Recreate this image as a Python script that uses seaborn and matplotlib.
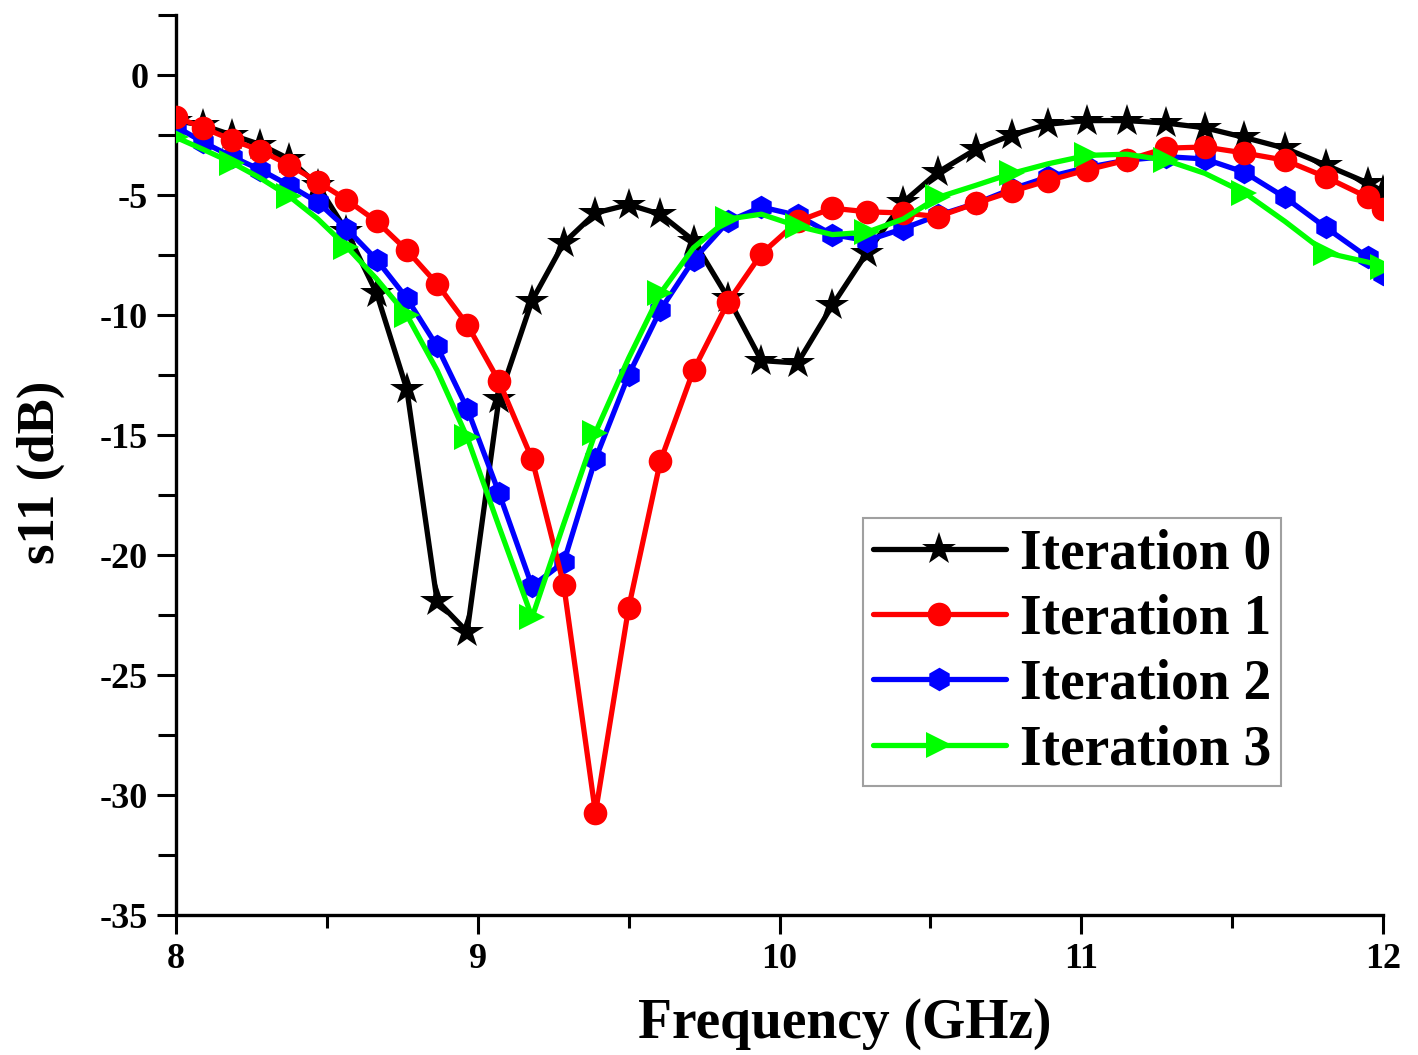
import matplotlib
matplotlib.use("Agg")
import matplotlib.pyplot as plt
import seaborn as sns
import pandas as pd
from matplotlib.ticker import MultipleLocator

# Frequency points (GHz)
freq = [8.00, 8.09, 8.185, 8.28, 8.375, 8.47, 8.565, 8.665, 8.765, 8.865,
        8.965, 9.07, 9.18, 9.285, 9.39, 9.50, 9.605, 9.715, 9.83, 9.94,
        10.06, 10.175, 10.29, 10.41, 10.525, 10.65, 10.77, 10.89, 11.02, 11.15,
        11.28, 11.41, 11.54, 11.675, 11.81, 11.95, 12.0]

iter0 = [-1.9, -2.1, -2.5, -2.9, -3.5, -4.6, -6.5, -9.1, -13.1, -21.9,
         -23.2, -13.5, -9.4, -7.0, -5.75, -5.4, -5.8, -6.9, -9.3, -11.9,
         -12.0, -9.6, -7.4, -5.3, -4.05, -3.1, -2.5, -2.05, -1.9, -1.9,
         -2.0, -2.2, -2.6, -3.05, -3.75, -4.5, -4.85]

iter1 = [-1.75, -2.2, -2.7, -3.15, -3.75, -4.45, -5.2, -6.1, -7.3, -8.7,
         -10.4, -12.75, -16.0, -21.25, -30.75, -22.2, -16.1, -12.3, -9.45, -7.45,
         -6.1, -5.55, -5.7, -5.75, -5.9, -5.35, -4.85, -4.4, -3.95, -3.55,
         -3.05, -3.0, -3.25, -3.55, -4.25, -5.1, -5.6]

iter2 = [-2.15, -2.8, -3.4, -3.95, -4.6, -5.3, -6.4, -7.7, -9.3, -11.3,
         -13.9, -17.4, -21.3, -20.3, -16.0, -12.5, -9.8, -7.7, -6.1, -5.5,
         -5.85, -6.65, -6.9, -6.4, -5.85, -5.35, -4.75, -4.25, -3.85, -3.55,
         -3.4, -3.5, -4.05, -5.1, -6.35, -7.6, -8.3]

iter3 = [-2.6, -3.1, -3.65, -4.3, -5.05, -6.0, -7.15, -8.5, -10.0, -12.3,
         -15.1, -18.8, -22.6, -18.7, -14.9, -11.8, -9.1, -7.2, -6.0, -5.8,
         -6.3, -6.65, -6.55, -6.0, -5.1, -4.6, -4.1, -3.7, -3.35, -3.3,
         -3.55, -4.1, -4.9, -6.1, -7.4, -7.8, -8.0]

labels = ["Iteration 0", "Iteration 1", "Iteration 2", "Iteration 3"]
colors = ["#000000", "#FF0000", "#0000FF", "#00FF00"]
markers = ["*", "o", "h", ">"]
msizes = [25, 17, 17, 19]
zorders = [2, 4, 3, 5]
markevery = [1, 1, 1, 2]

sns.set_theme(style="ticks")
plt.rcParams["font.family"] = ["Liberation Serif", "DejaVu Serif"]
plt.rcParams["font.weight"] = "bold"
plt.rcParams["axes.unicode_minus"] = False
plt.rcParams["text.color"] = "black"
plt.rcParams["axes.labelcolor"] = "black"
plt.rcParams["xtick.color"] = "black"
plt.rcParams["ytick.color"] = "black"

fig = plt.figure(figsize=(14.18, 10.55), dpi=100)
ax = fig.add_axes([176 / 1418, 1 - 915 / 1055, (1383 - 176) / 1418, (915 - 15) / 1055])

series = [iter0, iter1, iter2, iter3]
for vals, lab, col, mk, ms, zo, me in zip(series, labels, colors, markers, msizes, zorders, markevery):
    df = pd.DataFrame({"freq": freq, "s11": vals})
    sns.lineplot(data=df, x="freq", y="s11", ax=ax, color=col, linewidth=3.8,
                 marker=mk, markersize=ms, markeredgewidth=0, markevery=me,
                 zorder=zo, sort=False, estimator=None, label=lab)

ax.set_xlim(8, 12)
ax.set_ylim(-35, 2.5)
ax.xaxis.set_major_locator(MultipleLocator(1))
ax.xaxis.set_minor_locator(MultipleLocator(0.5))
ax.yaxis.set_major_locator(MultipleLocator(5))
ax.yaxis.set_minor_locator(MultipleLocator(2.5))

for side in ["top", "right"]:
    ax.spines[side].set_visible(False)
for side in ["left", "bottom"]:
    ax.spines[side].set_linewidth(2.4)
    ax.spines[side].set_color("black")

ax.tick_params(axis="both", which="major", direction="out", length=14, width=2.2,
               labelsize=26, pad=6, colors="black")
ax.tick_params(axis="y", which="minor", direction="out", length=13, width=2.2)
ax.tick_params(axis="x", which="minor", direction="out", length=9, width=2.2)
for lbl in ax.get_xticklabels() + ax.get_yticklabels():
    lbl.set_fontweight("bold")

ax.set_xlabel("Frequency (GHz)", fontsize=40, fontweight="bold", color="black")
ax.set_ylabel("s11 (dB)", fontsize=38, fontweight="bold", color="black")
ax.xaxis.set_label_coords(0.554, -0.092)
ax.yaxis.set_label_coords(-0.092, 0.492)

leg = ax.legend(loc="upper left", bbox_to_anchor=(0.569, 0.441), borderaxespad=0,
                prop={"family": "Liberation Serif", "weight": "bold", "size": 40},
                handlelength=2.4, handletextpad=0.25, labelspacing=0.24,
                borderpad=0.18, frameon=True, fancybox=False, markerscale=1.0)
leg.get_frame().set_edgecolor("#888888")
leg.get_frame().set_linewidth(1.5)
for t in leg.get_texts():
    t.set_color("black")

fig.savefig("out.png", dpi=100, facecolor="white")
